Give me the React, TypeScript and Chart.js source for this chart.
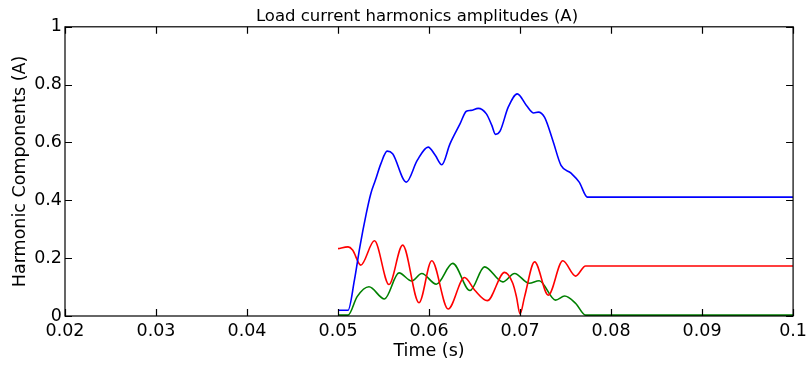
import React, { useEffect, useRef } from "react";
import { Chart, registerables } from "chart.js";

Chart.register(...registerables);

const titleText = "Load current harmonics amplitudes (A)";
const xTitle = "Time (s)";
const yTitle = "Harmonic Components (A)";

const xTickValues = [0.02, 0.03, 0.04, 0.05, 0.06, 0.07, 0.08, 0.09, 0.1];
const xTickLabels = ["0.02", "0.03", "0.04", "0.05", "0.06", "0.07", "0.08", "0.09", "0.1"];
const yTickValues = [0, 0.2, 0.4, 0.6, 0.8, 1];
const yTickLabels = ["0", "0.2", "0.4", "0.6", "0.8", "1"];

// Fundamental (blue)
const blueT = [0.05, 0.0511, 0.0518, 0.0524, 0.0531, 0.0536, 0.0541, 0.0547, 0.0554, 0.056, 0.0575, 0.0587, 0.0599, 0.0607, 0.0614, 0.0623, 0.0634, 0.0641, 0.0646, 0.0654, 0.0663, 0.0669, 0.0673, 0.0678, 0.0687, 0.0697, 0.0707, 0.0715, 0.072, 0.0727, 0.0736, 0.0745, 0.0756, 0.0765, 0.0774, 0.1];
const blueV = [0.02, 0.02, 0.124, 0.239, 0.354, 0.423, 0.469, 0.526, 0.57, 0.561, 0.463, 0.538, 0.584, 0.555, 0.523, 0.595, 0.664, 0.708, 0.711, 0.718, 0.699, 0.659, 0.628, 0.639, 0.722, 0.768, 0.728, 0.702, 0.705, 0.687, 0.607, 0.521, 0.494, 0.463, 0.411, 0.411];

// Harmonic (red)
const redT = [0.05, 0.0511, 0.0516, 0.0525, 0.054, 0.0556, 0.0571, 0.0589, 0.0603, 0.0621, 0.0639, 0.065, 0.0664, 0.0683, 0.0692, 0.0696, 0.07, 0.0705, 0.0716, 0.0731, 0.0747, 0.0761, 0.0772, 0.1];
const redV = [0.233, 0.239, 0.228, 0.176, 0.26, 0.109, 0.245, 0.046, 0.191, 0.024, 0.133, 0.09, 0.053, 0.151, 0.113, 0.067, 0.007, 0.067, 0.187, 0.072, 0.191, 0.138, 0.173, 0.173];

// Harmonic (green)
const greenT = [0.05, 0.0511, 0.0521, 0.0534, 0.0551, 0.0567, 0.0581, 0.0592, 0.0608, 0.0626, 0.0645, 0.0661, 0.0681, 0.0694, 0.071, 0.0721, 0.0739, 0.0749, 0.0761, 0.0772, 0.1];
const greenV = [0.003, 0.003, 0.067, 0.101, 0.059, 0.149, 0.121, 0.147, 0.11, 0.182, 0.088, 0.17, 0.118, 0.147, 0.113, 0.122, 0.055, 0.069, 0.044, 0.003, 0.003];

const FONT = "'DejaVu Sans', sans-serif";

const toPoints = (t: number[], v: number[]) => t.map((x, i) => ({ x, y: v[i] }));

const boxPlugin = {
  id: "matlabBox",
  afterDraw(chart: any) {
    const { ctx, chartArea } = chart;
    const { left, right, top, bottom } = chartArea;
    const xs = chart.scales.x;
    const ys = chart.scales.y;
    const tl = 7;
    ctx.save();
    ctx.strokeStyle = "#000";
    ctx.lineWidth = 1.2;
    ctx.beginPath();
    xTickValues.forEach((v) => {
      const px = Math.round(xs.getPixelForValue(v)) + 0.5;
      ctx.moveTo(px, bottom);
      ctx.lineTo(px, bottom - tl);
      ctx.moveTo(px, top);
      ctx.lineTo(px, top + tl);
    });
    yTickValues.forEach((v) => {
      const py = Math.round(ys.getPixelForValue(v)) + 0.5;
      ctx.moveTo(left, py);
      ctx.lineTo(left + tl, py);
      ctx.moveTo(right, py);
      ctx.lineTo(right - tl, py);
    });
    ctx.stroke();
    ctx.strokeRect(left, top, right - left, bottom - top);
    ctx.restore();
  },
};

export default function App() {
  const ref = useRef<HTMLCanvasElement | null>(null);

  useEffect(() => {
    if (!ref.current) return;
    const line = (t: number[], v: number[], color: string) => ({
      data: toPoints(t, v),
      borderColor: color,
      backgroundColor: color,
      borderWidth: 1.6,
      pointRadius: 0,
      cubicInterpolationMode: "monotone" as const,
      fill: false,
    });
    const chart = new Chart(ref.current, {
      type: "line",
      data: {
        datasets: [
          line(blueT, blueV, "#0000ff"),
          line(redT, redV, "#ff0000"),
          line(greenT, greenV, "#008000"),
        ],
      },
      options: {
        animation: false,
        responsive: false,
        events: [],
        layout: { padding: { left: 35, right: 13, top: 0, bottom: 0 } },
        plugins: {
          legend: { display: false },
          tooltip: { enabled: false },
          title: {
            display: true,
            text: titleText,
            color: "#000",
            font: { family: FONT, size: 16.5, weight: "normal" },
            padding: { top: 7, bottom: 0 },
          },
        },
        scales: {
          x: {
            type: "linear",
            min: 0.02,
            max: 0.1,
            afterBuildTicks: (s: any) => {
              s.ticks = xTickValues.map((value) => ({ value }));
            },
            afterFit: (s: any) => {
              s.height = 53;
            },
            ticks: {
              autoSkip: false,
              maxRotation: 0,
              color: "#000",
              padding: 5,
              font: { family: FONT, size: 17.5 },
              callback: (_v: any, i: number) => xTickLabels[i],
            },
            grid: { display: false, drawTicks: false },
            border: { display: false },
            title: {
              display: true,
              text: xTitle,
              color: "#000",
              font: { family: FONT, size: 17.5 },
              padding: { top: 0, bottom: 7 },
            },
          },
          y: {
            type: "linear",
            min: 0,
            max: 1,
            afterBuildTicks: (s: any) => {
              s.ticks = yTickValues.map((value) => ({ value }));
            },
            afterFit: (s: any) => {
              s.width = 30;
            },
            ticks: {
              autoSkip: false,
              color: "#000",
              padding: 3,
              font: { family: FONT, size: 17.5 },
              callback: (_v: any, i: number) => yTickLabels[i],
            },
            grid: { display: false, drawTicks: false },
            border: { display: false },
            title: {
              display: true,
              text: yTitle,
              color: "#000",
              font: { family: FONT, size: 17.5 },
              padding: { top: -25.5, bottom: 0 },
            },
          },
        },
      },
      plugins: [boxPlugin],
    });
    return () => chart.destroy();
  }, []);

  return (
    <div style={{ position: "absolute", left: 0, top: 0, width: 812, height: 369, background: "#fff" }}>
      <canvas ref={ref} width={812} height={369} style={{ display: "block" }} />
    </div>
  );
}
